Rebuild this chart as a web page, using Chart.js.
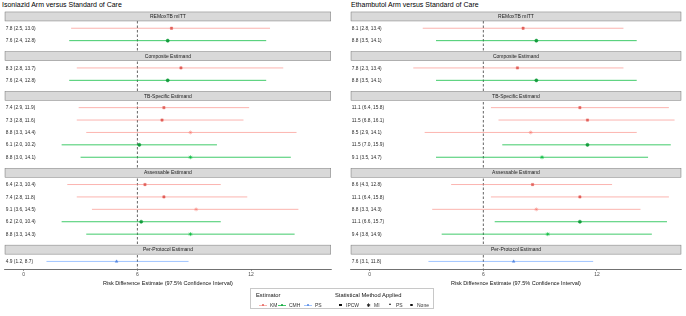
<!DOCTYPE html>
<html lang="en">
<head>
<meta charset="UTF-8">
<title>Risk Difference Forest Plot</title>
<script src="https://cdn.jsdelivr.net/npm/chart.js"></script>
<style>
  body { margin: 0; width: 686px; height: 316px; background: #fff; position: relative; overflow: hidden;
         font-family: 'Liberation Sans', Arial, sans-serif; }
  .ptitle { position: absolute; top: 1px; font-size: 7px; color: #000; white-space: nowrap; }
  canvas { position: absolute; top: 0; }
  #legend { position: absolute; left: 250px; top: 288px; width: 184px; height: 21px;
            border: 0.6px solid #c8c8c8; box-sizing: border-box; }
  #legend span { position: absolute; white-space: nowrap; font-size: 5px; color: #333; line-height: 6px; }
  #legend .lt { font-size: 5.8px; color: #111; }
  .sym { display: inline-block; position: absolute; }
</style>
</head>
<body>
  <div class="ptitle" style="left:2px">Isoniazid Arm versus Standard of Care</div>
  <div class="ptitle" style="left:351px">Ethambutol Arm versus Standard of Care</div>
  <canvas id="inhChart" width="340" height="292" style="left:0"></canvas>
  <canvas id="ethChart" width="340" height="292" style="left:346px"></canvas>
  <div id="legend"></div>

<script>
  const FONT = "'Liberation Sans', Arial, sans-serif";

  // facets (strips) and how many rows each one holds
  const groups = ['REMoxTB mITT', 'Composite Estimand', 'TB-Specific Estimand', 'Assessable Estimand', 'Per-Protocol Estimand'];
  const groupSizes = [2, 2, 5, 5, 1];

  // one entry per row, top to bottom
  const estimators = ['KM', 'CMH', 'KM', 'CMH', 'KM', 'KM', 'KM', 'CMH', 'CMH', 'KM', 'KM', 'KM', 'CMH', 'CMH', 'PS'];
  const methods = ['IPCW', 'None', 'IPCW', 'None', 'IPCW', 'IPCW', 'MI', 'None', 'MI', 'IPCW', 'IPCW', 'MI', 'None', 'MI', 'PS'];

  // Isoniazid arm vs standard of care
  const inhEst = [7.8, 7.6, 8.3, 7.6, 7.4, 7.3, 8.8, 6.1, 8.8, 6.4, 7.4, 9.1, 6.2, 8.8, 4.9];
  const inhLo  = [2.5, 2.4, 2.8, 2.4, 2.9, 2.8, 3.3, 2.0, 3.0, 2.3, 2.8, 3.6, 2.0, 3.3, 1.2];
  const inhHi  = [13.0, 12.8, 13.7, 12.8, 11.9, 11.6, 14.4, 10.2, 14.1, 10.4, 11.8, 14.5, 10.4, 14.3, 8.7];

  // Ethambutol arm vs standard of care
  const ethEst = [8.1, 8.8, 7.8, 8.8, 11.1, 11.5, 8.5, 11.5, 9.1, 8.6, 11.1, 8.8, 11.1, 9.4, 7.6];
  const ethLo  = [2.8, 3.5, 2.3, 3.5, 6.4, 6.8, 2.9, 7.0, 3.5, 4.3, 6.4, 3.3, 6.6, 3.8, 3.1];
  const ethHi  = [13.4, 14.1, 13.4, 14.1, 15.8, 16.1, 14.1, 15.9, 14.7, 12.8, 15.8, 14.3, 15.7, 14.9, 11.8];

  const xTicks = [0, 6, 12];
  const refLine = 6;

  const lineCol = { KM: 'rgba(248,118,109,0.55)', CMH: 'rgba(0,186,56,0.75)', PS: 'rgba(97,156,255,0.6)' };
  const dotCol = { KM: '#e2605a', CMH: '#139c3c', PS: '#5688e0' };
  const shapes = { IPCW: 'rect', MI: 'star', PS: 'triangle', None: 'circle' };

  // strip, then rows one unit apart, small gap before the next strip
  function layoutRows() {
    let pos = 0;
    const strips = [], rows = [];
    groupSizes.forEach(n => {
      strips.push(pos);
      pos += 0.95;
      for (let i = 0; i < n; i++) { rows.push(pos); pos += 1; }
      pos += 0.25;
    });
    return { strips, rows };
  }
  const { strips, rows } = layoutRows();

  const panelDecor = {
    id: 'panelDecor',
    beforeDatasetsDraw(chart) {
      const { ctx, chartArea, scales } = chart;
      const x = scales.x.getPixelForValue(refLine);
      ctx.save();
      ctx.strokeStyle = '#222';
      ctx.lineWidth = 0.7;
      ctx.setLineDash([2.5, 2]);
      ctx.beginPath();
      ctx.moveTo(x, chartArea.top);
      ctx.lineTo(x, chartArea.bottom);
      ctx.stroke();
      ctx.restore();
    },
    afterDatasetsDraw(chart, args, opts) {
      const { ctx, chartArea, scales } = chart;
      ctx.save();
      // facet strips
      strips.forEach((s, i) => {
        const y = scales.y.getPixelForValue(s);
        ctx.fillStyle = '#d9d9d9';
        ctx.fillRect(chartArea.left, y - 4.5, chartArea.right - chartArea.left, 9);
        ctx.strokeStyle = '#7a7a7a';
        ctx.lineWidth = 0.5;
        ctx.strokeRect(chartArea.left + 0.25, y - 4.5, chartArea.right - chartArea.left - 0.5, 9);
        ctx.fillStyle = '#1a1a1a';
        ctx.font = '5px ' + FONT;
        ctx.textAlign = 'center';
        ctx.textBaseline = 'middle';
        ctx.fillText(groups[i], (chartArea.left + chartArea.right) / 2, y + 0.3);
      });
      // row labels
      ctx.fillStyle = '#2a2a2a';
      ctx.font = '4.8px ' + FONT;
      ctx.textAlign = 'left';
      ctx.textBaseline = 'middle';
      opts.labels.forEach((t, i) => {
        ctx.fillText(t, chartArea.left + 1, scales.y.getPixelForValue(rows[i]) + 0.3);
      });
      ctx.restore();
    }
  };

  function makePanel(id, est, lo, hi, padLeft, padRight, xMax) {
    const datasets = rows.map((y, i) => ({
      showLine: true,
      data: [{ x: lo[i], y: y }, { x: hi[i], y: y }],
      borderColor: lineCol[estimators[i]],
      borderWidth: 1,
      pointRadius: 0,
      order: 2
    }));
    datasets.push({
      data: rows.map((y, i) => ({ x: est[i], y: y })),
      pointStyle: methods.map(m => shapes[m]),
      pointRadius: methods.map(m => m === 'MI' ? 2 : 1.6),
      backgroundColor: estimators.map(e => dotCol[e]),
      borderColor: methods.map((m, i) => m === 'MI' ? lineCol[estimators[i]] : dotCol[estimators[i]]),
      borderWidth: methods.map(m => m === 'MI' ? 0.8 : 0.5),
      order: 1
    });
    const labels = est.map((v, i) => `${v.toFixed(1)} (${lo[i].toFixed(1)}, ${hi[i].toFixed(1)})`);

    return new Chart(document.getElementById(id), {
      type: 'scatter',
      data: { datasets },
      plugins: [panelDecor],
      options: {
        responsive: false,
        animation: false,
        devicePixelRatio: 1,
        layout: { padding: { left: padLeft, right: padRight, top: 12, bottom: 0 } },
        plugins: {
          legend: { display: false },
          tooltip: { enabled: false },
          panelDecor: { labels }
        },
        scales: {
          x: {
            type: 'linear',
            min: -1,
            max: xMax,
            afterBuildTicks: s => { s.ticks = xTicks.map(v => ({ value: v })); },
            afterFit: s => { s.height = 23; },
            ticks: { font: { size: 5, family: FONT }, color: '#4d4d4d', padding: 1 },
            grid: { drawOnChartArea: false, drawTicks: true, tickLength: 2, color: '#333', lineWidth: 0.5 },
            border: { display: true, color: '#333', width: 0.7 },
            title: {
              display: true,
              text: 'Risk Difference Estimate (97.5% Confidence Interval)',
              font: { size: 5.5, family: FONT },
              color: '#111',
              padding: { top: 0, bottom: 5 }
            }
          },
          y: { type: 'linear', reverse: true, min: -0.36, max: 20.36, display: false }
        }
      }
    });
  }

  makePanel('inhChart', inhEst, inhLo, inhHi, 1, 9, 16.22);
  makePanel('ethChart', ethEst, ethLo, ethHi, 4, 3, 16.45);

  // legend: estimator colours and method shapes
  const legend = document.getElementById('legend');
  function addSpan(html, left, top, cls) {
    const s = document.createElement('span');
    s.innerHTML = html;
    s.style.left = left + 'px';
    s.style.top = top + 'px';
    if (cls) s.className = cls;
    legend.appendChild(s);
    return s;
  }
  addSpan('Estimator', 5, 3, 'lt');
  addSpan('Statistical Method Applied', 84, 3, 'lt');

  const estLegend = [['KM', 8], ['CMH', 27], ['PS', 53]];
  estLegend.forEach(([e, x]) => {
    addSpan(`<i class="sym" style="left:0;top:2.6px;width:8px;height:0.9px;background:${lineCol[e]}"></i>` +
            `<i class="sym" style="left:2.8px;top:1.8px;width:2.4px;height:2.4px;border-radius:50%;background:${dotCol[e]}"></i>`, x, 13);
    addSpan(e, x + 11, 13);
  });

  const methLegend = [['IPCW', 88], ['MI', 116], ['PS', 138], ['None', 159]];
  methLegend.forEach(([m, x]) => {
    let sym;
    if (m === 'IPCW') sym = '<i class="sym" style="left:0;top:1.6px;width:2.6px;height:2.6px;background:#111"></i>';
    else if (m === 'MI') sym = '<i class="sym" style="left:-0.5px;top:-0.3px;font-style:normal;font-size:5px;color:#111;font-family:DejaVu Sans">✱</i>';
    else if (m === 'PS') sym = '<i class="sym" style="left:0;top:1.4px;width:0;height:0;border-left:1.5px solid transparent;border-right:1.5px solid transparent;border-bottom:2.8px solid #111"></i>';
    else sym = '<i class="sym" style="left:0;top:1.6px;width:2.8px;height:2.8px;border-radius:50%;background:#111"></i>';
    addSpan(sym, x, 13);
    addSpan(m, x + 7, 13);
  });
</script>
</body>
</html>
